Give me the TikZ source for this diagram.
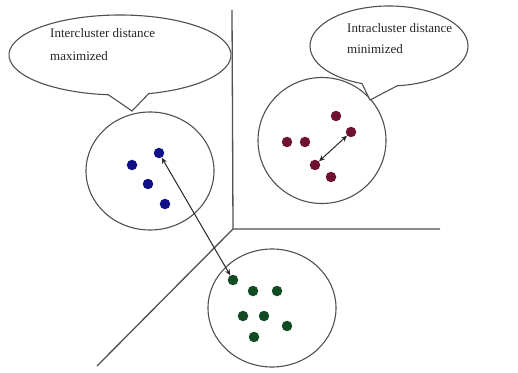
\documentclass[tikz,border=0pt]{standalone}
\usepackage{fontspec}
\setmainfont{Liberation Serif}
\usetikzlibrary{arrows.meta,calc}
\definecolor{linegray}{HTML}{505050}
\definecolor{bluedot}{HTML}{10108A}
\definecolor{reddot}{HTML}{6E1230}
\definecolor{greendot}{HTML}{124A22}
\begin{document}
\begin{tikzpicture}[x=1pt,y=1pt,
  axis/.style={draw=linegray,line width=1.3pt},
  cluster/.style={draw=linegray,line width=1.1pt},
  callout/.style={draw=linegray,line width=1.1pt,fill=white},
  dotb/.style={circle,fill=bluedot,inner sep=0pt,minimum size=10.5pt},
  dotr/.style={circle,fill=reddot,inner sep=0pt,minimum size=10.5pt},
  dotg/.style={circle,fill=greendot,inner sep=0pt,minimum size=10.5pt},
  dist/.style={draw=black!85,line width=1pt,{Stealth[length=6pt,width=5pt]}-{Stealth[length=6pt,width=5pt]}},
  lab/.style={anchor=base west,inner sep=0pt,font=\fontsize{13}{15}\selectfont,text=black!85}]
\useasboundingbox (0,0) rectangle (518,372);
% axes
\coordinate (o) at (233,143);
\coordinate (ytop) at (232,362);
\coordinate (xend) at (440,143);
\coordinate (dend) at (97,6);
\draw[axis] (ytop) -- (o) -- (xend);
\draw[axis] (o) -- (dend);
% clusters
\draw[cluster] (150,201) ellipse[x radius=64, y radius=59];
\draw[cluster] (322,231.5) ellipse[x radius=64, y radius=63];
\draw[cluster] (272,64) ellipse[x radius=64, y radius=59];
% blue dots
\node[dotb] (b1) at (132,207) {};
\node[dotb] (b2) at (159,219) {};
\node[dotb] (b3) at (148,188) {};
\node[dotb] (b4) at (165,168) {};
% red dots
\node[dotr] (r1) at (287,230) {};
\node[dotr] (r2) at (305,230) {};
\node[dotr] (r3) at (336,256) {};
\node[dotr] (r4) at (351,240) {};
\node[dotr] (r5) at (315,207) {};
\node[dotr] (r6) at (331,195) {};
% green dots
\node[dotg] (g1) at (233,92) {};
\node[dotg] (g2) at (253,81) {};
\node[dotg] (g3) at (277,81) {};
\node[dotg] (g4) at (243,56) {};
\node[dotg] (g5) at (264,56) {};
\node[dotg] (g6) at (287,46) {};
\node[dotg] (g7) at (254,35) {};
% distances
\draw[dist] (b2) -- (g1);
\draw[dist] (r5) -- (r4);
% callouts
\coordinate (t1) at (132,261);
\draw[callout] (t1) -- ($(120,317)+(285:111 and 40)$) arc[start angle=285, end angle=624, x radius=111, y radius=40] -- cycle;
\coordinate (t2) at (370,272);
\draw[callout] (t2) -- ($(389,326)+(276:79 and 40)$) arc[start angle=276, end angle=610, x radius=79, y radius=40] -- cycle;
\node[lab] (l1a) at (50,334) {Intercluster distance};
\node[lab] (l1b) at (50,311) {maximized};
\node[lab] (l2a) at (347,339) {Intracluster distance};
\node[lab] (l2b) at (347,318) {minimized};
\end{tikzpicture}
\end{document}
